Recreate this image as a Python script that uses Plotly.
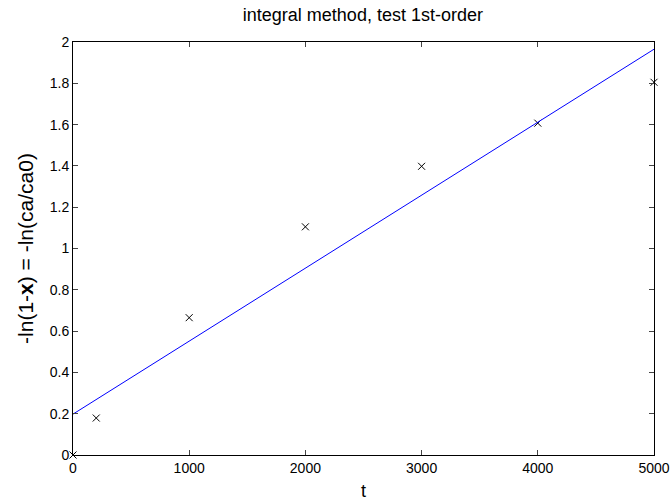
import plotly.graph_objects as go

t_data = [0, 200, 1000, 2000, 3000, 4000, 5000]
y_data = [0.0, 0.179, 0.665, 1.105, 1.398, 1.607, 1.805]
fit_t = [0, 5000]
fit_y = [0.198, 1.965]
x_ticks = [0, 1000, 2000, 3000, 4000, 5000]
y_ticks = [0, 0.2, 0.4, 0.6, 0.8, 1, 1.2, 1.4, 1.6, 1.8, 2]
y_tick_text = ["0", "0.2", "0.4", "0.6", "0.8", "1", "1.2", "1.4", "1.6", "1.8", "2"]

fig = go.Figure()
fig.add_trace(go.Scatter(x=t_data, y=y_data, mode="markers",
                         marker=dict(symbol="x-thin", size=7, color="black",
                                     line=dict(width=1, color="black")),
                         cliponaxis=False, showlegend=False))
fig.add_trace(go.Scatter(x=fit_t, y=fit_y, mode="lines",
                         line=dict(color="#0000ff", width=1),
                         showlegend=False))

font = dict(family="Liberation Sans, Arial, sans-serif", size=14, color="black")
fig.update_layout(
    width=672, height=501,
    margin=dict(l=73, r=18, t=42, b=46, autoexpand=False),
    paper_bgcolor="white", plot_bgcolor="white",
    font=font,
    title=dict(text="integral method, test 1st-order", x=0.54, xanchor="center",
               y=0.97, yanchor="middle", font=dict(size=18, family=font["family"], color="black")),
    xaxis=dict(range=[0, 5000], tickvals=x_ticks, ticks="inside", ticklen=5,
               showline=True, linecolor="black", linewidth=1, mirror="ticks",
               showgrid=False, zeroline=False, automargin=False,
               title=dict(text="t", standoff=14, font=dict(size=18))),
    yaxis=dict(range=[0, 2], tickvals=y_ticks, ticktext=y_tick_text, ticks="inside", ticklen=5,
               showline=True, linecolor="black", linewidth=1, mirror="ticks",
               showgrid=False, zeroline=False, automargin=False,
               title=dict(text="-ln(1-<b>x</b>) = -ln(ca/ca0)", standoff=10, font=dict(size=21))),
)
fig.write_html("out.html")
